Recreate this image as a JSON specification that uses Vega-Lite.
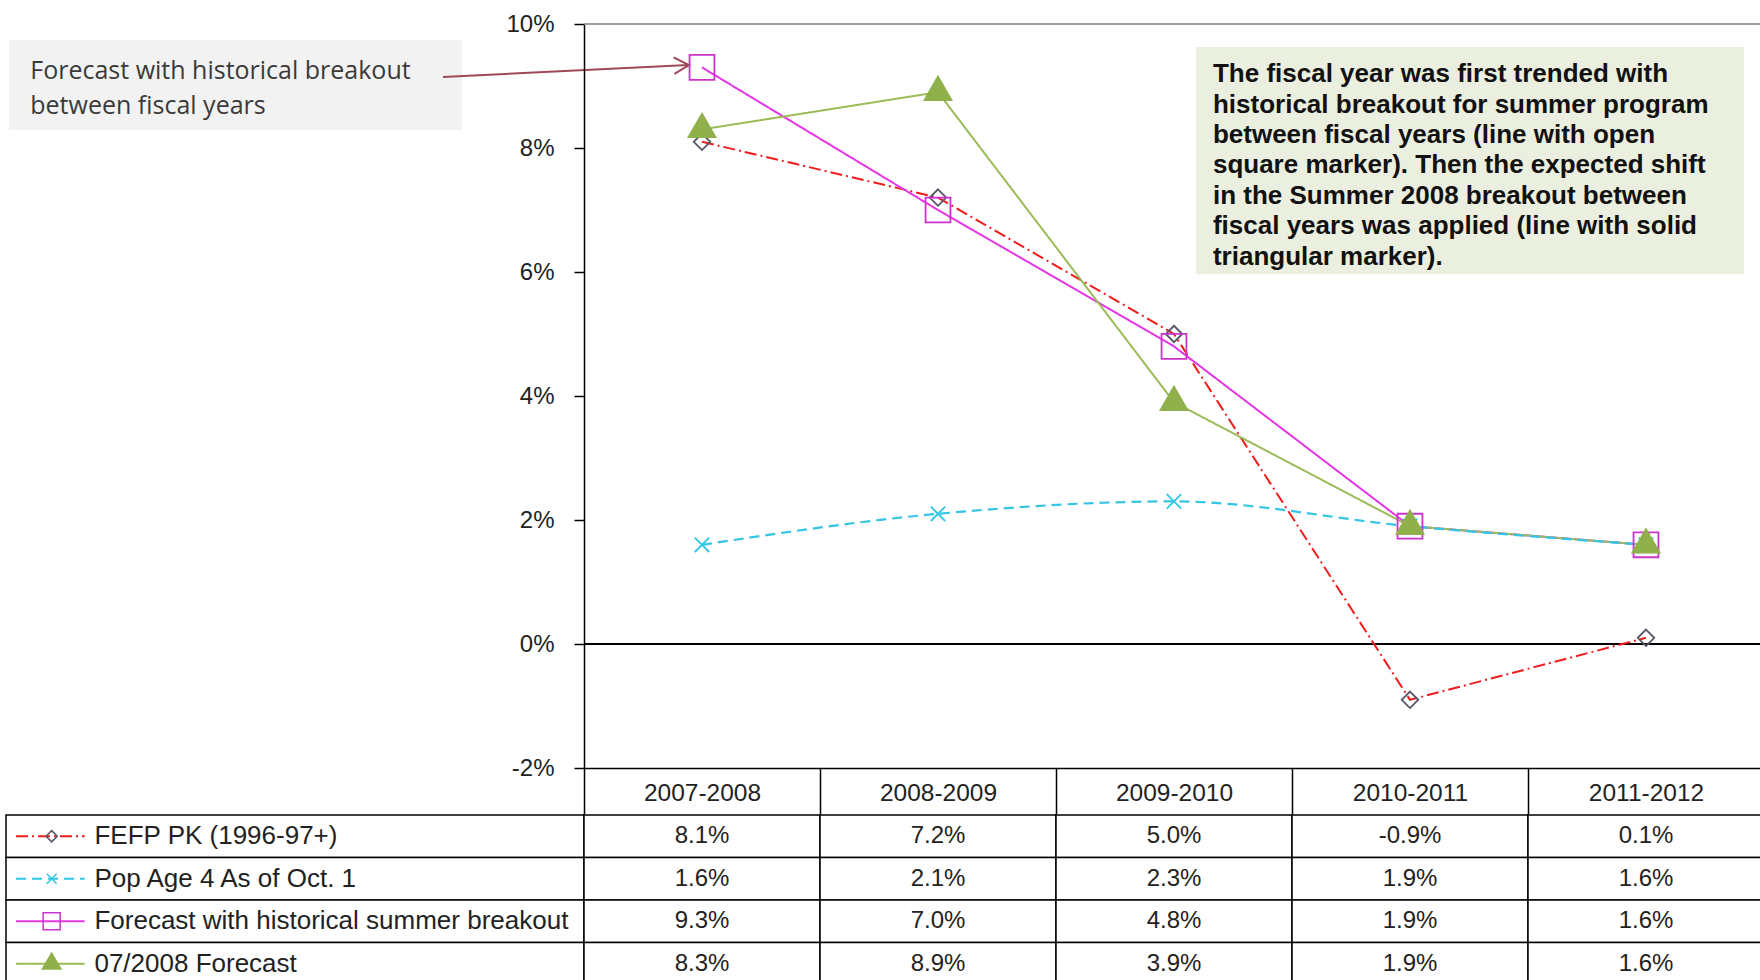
{
  "$schema": "https://vega.github.io/schema/vega-lite/v6.json",
  "background": "white",
  "padding": {"left": 5, "top": 12, "right": 0, "bottom": 0},
  "config": {
    "view": {"stroke": null},
    "font": "Liberation Sans",
    "locale": {"number": {"decimal": ".", "thousands": ",", "grouping": [3], "currency": ["$", ""], "minus": "-"}}
  },
  "datasets": {
    "vals": [
      {"series": "FEFP PK (1996-97+)", "year": "2007-2008", "value": 0.081},
      {"series": "FEFP PK (1996-97+)", "year": "2008-2009", "value": 0.072},
      {"series": "FEFP PK (1996-97+)", "year": "2009-2010", "value": 0.050},
      {"series": "FEFP PK (1996-97+)", "year": "2010-2011", "value": -0.009},
      {"series": "FEFP PK (1996-97+)", "year": "2011-2012", "value": 0.001},
      {"series": "Pop Age 4 As of Oct. 1", "year": "2007-2008", "value": 0.016},
      {"series": "Pop Age 4 As of Oct. 1", "year": "2008-2009", "value": 0.021},
      {"series": "Pop Age 4 As of Oct. 1", "year": "2009-2010", "value": 0.023},
      {"series": "Pop Age 4 As of Oct. 1", "year": "2010-2011", "value": 0.019},
      {"series": "Pop Age 4 As of Oct. 1", "year": "2011-2012", "value": 0.016},
      {"series": "Forecast with historical summer breakout", "year": "2007-2008", "value": 0.093},
      {"series": "Forecast with historical summer breakout", "year": "2008-2009", "value": 0.070},
      {"series": "Forecast with historical summer breakout", "year": "2009-2010", "value": 0.048},
      {"series": "Forecast with historical summer breakout", "year": "2010-2011", "value": 0.019},
      {"series": "Forecast with historical summer breakout", "year": "2011-2012", "value": 0.016},
      {"series": "07/2008 Forecast", "year": "2007-2008", "value": 0.083},
      {"series": "07/2008 Forecast", "year": "2008-2009", "value": 0.089},
      {"series": "07/2008 Forecast", "year": "2009-2010", "value": 0.039},
      {"series": "07/2008 Forecast", "year": "2010-2011", "value": 0.019},
      {"series": "07/2008 Forecast", "year": "2011-2012", "value": 0.016}
    ],
    "blank": [{}]
  },
  "columns": 2,
  "spacing": {"row": 47, "column": 0},
  "bounds": "flush",
  "concat": [
    {
      "width": 578,
      "height": 744,
      "data": {"name": "blank"},
      "layer": [
        {
          "mark": {"type": "rect", "fill": "#f2f2f2"},
          "encoding": {
            "x": {"datum": 0.52, "type": "quantitative", "scale": {"domain": [0, 100]}, "axis": null},
            "x2": {"datum": 78.9},
            "y": {"datum": 0.09742, "type": "quantitative", "scale": {"domain": [-0.02, 0.1]}, "axis": null},
            "y2": {"datum": 0.0829}
          }
        },
        {
          "mark": {"type": "text", "align": "left", "baseline": "middle", "font": "Open Sans", "fontSize": 25, "color": "#3a3a3a", "lineHeight": 35},
          "encoding": {
            "x": {"datum": 4.2, "type": "quantitative"},
            "y": {"datum": 0.09242, "type": "quantitative"},
            "text": {"value": ["Forecast  with historical breakout", "between fiscal years"]}
          }
        },
        {
          "mark": {"type": "rule", "color": "#a04858", "strokeWidth": 2},
          "encoding": {
            "x": {"datum": 75.6, "type": "quantitative"},
            "x2": {"datum": 118.0},
            "y": {"datum": 0.09145, "type": "quantitative"},
            "y2": {"datum": 0.09339}
          }
        },
        {
          "mark": {"type": "point", "shape": "M-1,-0.55L0,0L-1,0.55", "filled": false, "stroke": "#a04858", "strokeWidth": 2, "size": 900, "angle": -2.8, "opacity": 1},
          "encoding": {
            "x": {"datum": 118.17, "type": "quantitative"},
            "y": {"datum": 0.09339, "type": "quantitative"}
          }
        }
      ]
    },
    {
      "width": 1180,
      "height": 744,
      "resolve": {"scale": {"x": "independent", "y": "independent"}},
      "layer": [
        {
          "data": {"name": "vals"},
          "layer": [
            {
              "data": {"name": "blank"},
              "mark": {"type": "rule", "color": "#7f7f7f", "strokeWidth": 1.5},
              "encoding": {"y": {"datum": 0.1, "type": "quantitative"}}
            },
            {
              "data": {"name": "blank"},
              "mark": {"type": "rule", "color": "#000000", "strokeWidth": 2},
              "encoding": {"y": {"datum": 0, "type": "quantitative"}}
            },
            {
              "transform": [{"filter": "datum.series !== 'Pop Age 4 As of Oct. 1'"}],
              "mark": {"type": "line"},
              "encoding": {
                "x": {
                  "field": "year", "type": "nominal",
                  "scale": {"type": "band", "domain": ["2007-2008", "2008-2009", "2009-2010", "2010-2011", "2011-2012"], "paddingInner": 0, "paddingOuter": 0},
                  "axis": {"orient": "bottom", "title": null, "tickBand": "extent", "tickSize": 47, "tickColor": "#000000", "tickWidth": 1.5, "domainColor": "#000000", "domainWidth": 1.5, "labelFontSize": 24.5, "labelColor": "#222222", "labelBaseline": "middle", "labelPadding": -22, "labelAngle": 0, "grid": false}
                },
                "y": {
                  "field": "value", "type": "quantitative",
                  "scale": {"domain": [-0.02, 0.1], "nice": false, "zero": false},
                  "axis": {"values": [-0.02, 0, 0.02, 0.04, 0.06, 0.08, 0.1], "format": ".0%", "title": null, "tickSize": 10, "tickColor": "#000000", "tickWidth": 1.5, "domainColor": "#000000", "domainWidth": 1.5, "labelFontSize": 24, "labelColor": "#222222", "labelPadding": 20, "grid": false}
                },
                "color": {"field": "series", "type": "nominal", "legend": null,
                  "scale": {"domain": ["FEFP PK (1996-97+)", "Pop Age 4 As of Oct. 1", "Forecast with historical summer breakout", "07/2008 Forecast"], "range": ["#f01c1c", "#33c5e5", "#e535e5", "#9bbb59"]}},
                "strokeDash": {"field": "series", "type": "nominal", "legend": null,
                  "scale": {"domain": ["FEFP PK (1996-97+)", "Pop Age 4 As of Oct. 1", "Forecast with historical summer breakout", "07/2008 Forecast"], "range": [[12, 4, 2, 4], [10, 6], [1, 0], [1, 0]]}}
              }
            },
            {
              "transform": [{"filter": "datum.series === 'Pop Age 4 As of Oct. 1'"}],
              "mark": {"type": "line", "interpolate": "monotone", "strokeWidth": 2.2},
              "encoding": {
                "x": {"field": "year", "type": "nominal"},
                "y": {"field": "value", "type": "quantitative"},
                "color": {"field": "series", "type": "nominal", "legend": null},
                "strokeDash": {"field": "series", "type": "nominal", "legend": null}
              }
            },
            {
              "mark": {"type": "point", "filled": true, "strokeWidth": 1.8, "opacity": 1, "size": 900},
              "encoding": {
                "x": {"field": "year", "type": "nominal"},
                "y": {"field": "value", "type": "quantitative"},
                "shape": {"field": "series", "type": "nominal", "legend": null,
                  "scale": {"domain": ["FEFP PK (1996-97+)", "Pop Age 4 As of Oct. 1", "Forecast with historical summer breakout", "07/2008 Forecast"], "range": ["M0,-0.55L0.55,0L0,0.55L-0.55,0Z", "M-0.48,-0.48L0.48,0.48M-0.48,0.48L0.48,-0.48", "M-0.83,-0.83H0.83V0.83H-0.83Z", "M0,-1.04L0.9,0.52L-0.9,0.52Z"]}},
                "stroke": {"field": "series", "type": "nominal", "legend": null,
                  "scale": {"domain": ["FEFP PK (1996-97+)", "Pop Age 4 As of Oct. 1", "Forecast with historical summer breakout", "07/2008 Forecast"], "range": ["#555566", "#33c5e5", "#cc33cc", "#8fb04a"]}},
                "fill": {"field": "series", "type": "nominal", "legend": null,
                  "scale": {"domain": ["FEFP PK (1996-97+)", "Pop Age 4 As of Oct. 1", "Forecast with historical summer breakout", "07/2008 Forecast"], "range": ["transparent", "transparent", "transparent", "#8fb04a"]}}
              }
            }
          ]
        },
        {
          "data": {"name": "blank"},
          "layer": [
            {
              "mark": {"type": "rect", "fill": "#ebefdf"},
              "encoding": {
                "x": {"datum": 51.86, "type": "quantitative", "scale": {"domain": [0, 100]}, "axis": null},
                "x2": {"datum": 98.3},
                "y": {"datum": 0.09629, "type": "quantitative", "scale": {"domain": [-0.02, 0.1]}, "axis": null},
                "y2": {"datum": 0.05968}
              }
            },
            {
              "mark": {"type": "text", "align": "left", "baseline": "top", "fontWeight": "bold", "fontSize": 26, "lineHeight": 30.4, "color": "#111111"},
              "encoding": {
                "x": {"datum": 53.3, "type": "quantitative"},
                "y": {"datum": 0.09399, "type": "quantitative"},
                "text": {"value": [
                  "The fiscal year was first trended with",
                  "historical breakout for summer program",
                  "between fiscal years (line with open",
                  "square marker).  Then the expected shift",
                  "in the Summer 2008 breakout between",
                  "fiscal years was  applied (line with solid",
                  "triangular marker)."
                ]}
              }
            }
          ]
        }
      ]
    },
    {
      "width": 578,
      "height": 170,
      "data": {"name": "vals"},
      "transform": [{"aggregate": [], "groupby": ["series"]}],
      "layer": [
        {
          "mark": {"type": "rect", "fill": "white", "stroke": "#000000", "strokeWidth": 1.5},
          "encoding": {
            "x": {"datum": 0, "type": "quantitative", "scale": {"domain": [0, 100]}, "axis": null},
            "x2": {"datum": 100},
            "y": {"field": "series", "type": "nominal", "axis": null,
              "scale": {"type": "band", "domain": ["FEFP PK (1996-97+)", "Pop Age 4 As of Oct. 1", "Forecast with historical summer breakout", "07/2008 Forecast"], "paddingInner": 0, "paddingOuter": 0}}
          }
        },
        {
          "mark": {"type": "rule", "strokeWidth": 2},
          "encoding": {
            "x": {"datum": 1.73, "type": "quantitative"},
            "x2": {"datum": 13.6},
            "y": {"field": "series", "type": "nominal"},
            "color": {"field": "series", "type": "nominal", "legend": null},
            "strokeDash": {"field": "series", "type": "nominal", "legend": null}
          }
        },
        {
          "mark": {"type": "point", "filled": true, "strokeWidth": 1.5, "opacity": 1, "size": 420},
          "encoding": {
            "x": {"datum": 7.9, "type": "quantitative"},
            "y": {"field": "series", "type": "nominal"},
            "shape": {"field": "series", "type": "nominal", "legend": null},
            "stroke": {"field": "series", "type": "nominal", "legend": null},
            "fill": {"field": "series", "type": "nominal", "legend": null}
          }
        },
        {
          "mark": {"type": "text", "align": "left", "baseline": "middle", "fontSize": 26, "color": "#222222"},
          "encoding": {
            "x": {"datum": 15.3, "type": "quantitative"},
            "y": {"field": "series", "type": "nominal"},
            "text": {"field": "series", "type": "nominal"}
          }
        }
      ]
    },
    {
      "width": 1180,
      "height": 170,
      "data": {"name": "vals"},
      "layer": [
        {
          "mark": {"type": "rect", "fill": "white", "stroke": "#000000", "strokeWidth": 1.5},
          "encoding": {
            "x": {"field": "year", "type": "nominal", "axis": null,
              "scale": {"type": "band", "domain": ["2007-2008", "2008-2009", "2009-2010", "2010-2011", "2011-2012"], "paddingInner": 0, "paddingOuter": 0}},
            "y": {"field": "series", "type": "nominal", "axis": null,
              "scale": {"type": "band", "domain": ["FEFP PK (1996-97+)", "Pop Age 4 As of Oct. 1", "Forecast with historical summer breakout", "07/2008 Forecast"], "paddingInner": 0, "paddingOuter": 0}}
          }
        },
        {
          "mark": {"type": "text", "align": "center", "baseline": "middle", "fontSize": 24, "color": "#222222"},
          "encoding": {
            "x": {"field": "year", "type": "nominal"},
            "y": {"field": "series", "type": "nominal"},
            "text": {"field": "value", "type": "quantitative", "format": ".1%"}
          }
        }
      ]
    }
  ]
}
